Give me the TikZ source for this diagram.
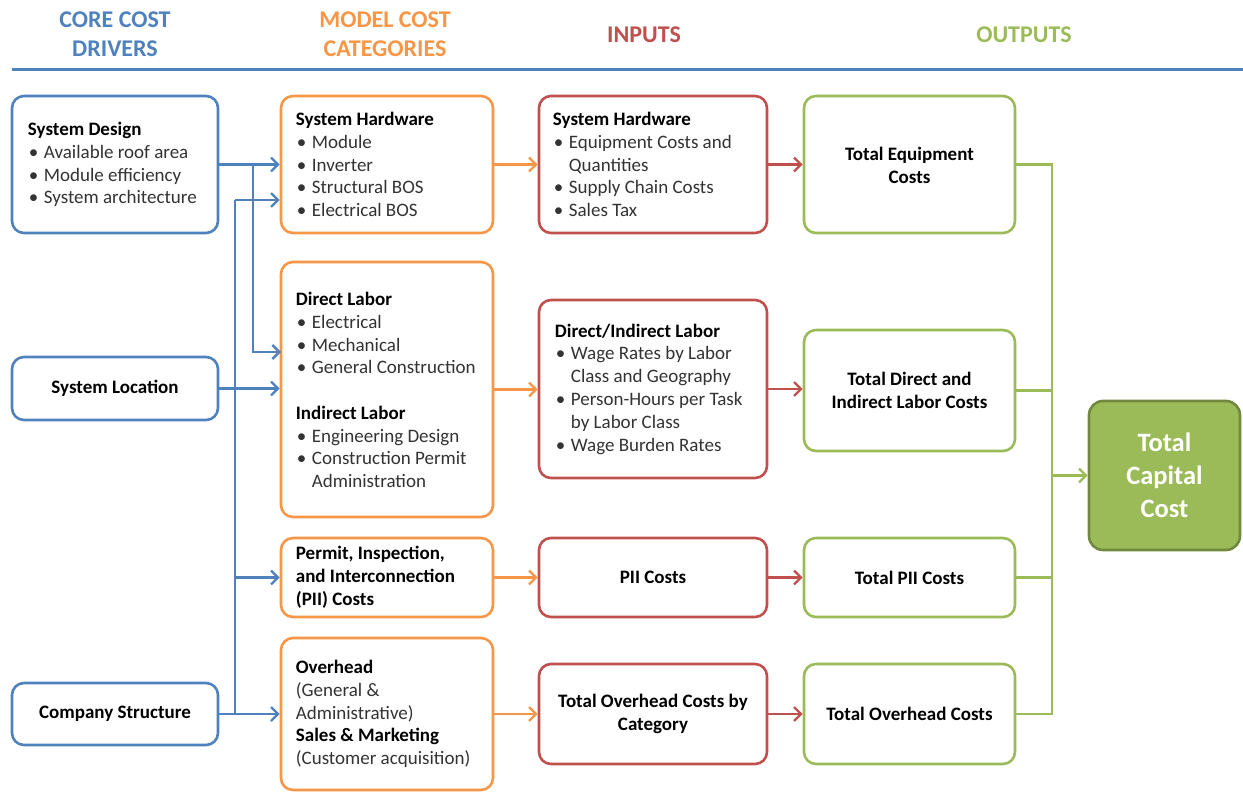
\documentclass[tikz,border=0pt]{standalone}
\usepackage{fontspec}
\setmainfont{Carlito}
\usetikzlibrary{arrows.meta,calc}
\definecolor{cblue}{HTML}{4F81BD}
\definecolor{corange}{HTML}{F79646}
\definecolor{cred}{HTML}{C0504D}
\definecolor{cgreen}{HTML}{9BBB59}
\definecolor{cdgreen}{HTML}{71893F}
\definecolor{ctext}{HTML}{333333}
\newcommand\hd[1]{\textcolor{black}{\bfseries #1}}
\newcommand\bl[1]{\makebox[16pt][l]{\hspace{1pt}\textbullet}#1}
\newcommand\ct[1]{\hspace*{16pt}#1}
\tikzset{
  box/.style={draw, rounded corners=12pt, line width=2.6pt, fill=white, minimum width=#1},
  bluebox/.style={box=206pt, draw=cblue},
  orangebox/.style={box=212pt, draw=corange},
  redbox/.style={box=228pt, draw=cred},
  greenbox/.style={box=211pt, draw=cgreen},
  txt/.style={anchor=west, align=left, inner sep=0pt, text=ctext, font=\fontsize{19}{22.8}\selectfont},
  ctxt/.style={align=center, inner sep=0pt, text=black, font=\fontsize{19}{22.8}\selectfont\bfseries},
  hdr/.style={align=center, inner sep=0pt, font=\fontsize{24}{28.5}\selectfont\bfseries},
  conn/.style={line width=2.4pt},
  arr/.style={conn, -{Straight Barb[length=7pt,width=14pt,line width=2.4pt]}},
}
\begin{document}
\begin{tikzpicture}[x=1pt,y=-1pt]
\useasboundingbox (0,0) rectangle (1243,792);
% headers
\node[hdr, text=cblue] (h1) at (115,34) {CORE COST\\DRIVERS};
\node[hdr, text=corange] (h2) at (385,34) {MODEL COST\\CATEGORIES};
\node[hdr, text=cred] (h3) at (644,35) {INPUTS};
\node[hdr, text=cgreen] (h4) at (1024,35) {OUTPUTS};
\coordinate (l1) at (12,70);
\coordinate (l2) at (1243,70);
\draw[line width=3pt, cblue] (l1) -- (l2);

% core cost drivers
\node[bluebox, minimum height=137pt] (sd) at (115,164.5) {};
\node[txt] (sdt) at ([xshift=17pt]sd.west) {\hd{System Design}\\\bl{Available roof area}\\\bl{Module efficiency}\\\bl{System architecture}};
\node[bluebox, minimum height=63pt] (sl) at (115,388.5) {};
\node[ctxt] (slt) at (sl.center) {System Location};
\node[bluebox, minimum height=62pt] (cs) at (115,714) {};
\node[ctxt] (cst) at (cs.center) {Company Structure};

% model cost categories
\node[orangebox, minimum height=137pt] (hw) at (387,164.5) {};
\node[txt] (hwt) at ([xshift=16pt]hw.west) {\hd{System Hardware}\\\bl{Module}\\\bl{Inverter}\\\bl{Structural BOS}\\\bl{Electrical BOS}};
\node[orangebox, minimum height=255pt] (dl) at (387,389.5) {};
\node[txt] (dlt) at ([xshift=16pt,yshift=-0.5pt]dl.west) {\hd{Direct Labor}\\\bl{Electrical}\\\bl{Mechanical}\\\bl{General Construction}\\[22.8pt]\hd{Indirect Labor}\\\bl{Engineering Design}\\\bl{Construction Permit}\\\ct{Administration}};
\node[orangebox, minimum height=79pt] (pii) at (387,577.5) {};
\node[txt, text=black, font=\fontsize{19}{22.8}\selectfont\bfseries] (piit) at ([xshift=16pt]pii.west) {Permit, Inspection,\\and Interconnection\\(PII) Costs};
\node[orangebox, minimum height=152pt] (oh) at (387,714) {};
\node[txt] (oht) at ([xshift=16pt]oh.west) {\hd{Overhead}\\(General \&\\Administrative)\\\hd{Sales \& Marketing}\\(Customer acquisition)};

% inputs
\node[redbox, minimum height=137pt] (ihw) at (653,164.5) {};
\node[txt] (ihwt) at ([xshift=15pt]ihw.west) {\hd{System Hardware}\\\bl{Equipment Costs and}\\\ct{Quantities}\\\bl{Supply Chain Costs}\\\bl{Sales Tax}};
\node[redbox, minimum height=178pt] (il) at (653,389) {};
\node[txt] (ilt) at ([xshift=17pt]il.west) {\hd{Direct/Indirect Labor}\\\bl{Wage Rates by Labor}\\\ct{Class and Geography}\\\bl{Person-Hours per Task}\\\ct{by Labor Class}\\\bl{Wage Burden Rates}};
\node[redbox, minimum height=79pt] (ip) at (653,577.5) {};
\node[ctxt] (ipt) at (ip.center) {PII Costs};
\node[redbox, minimum height=100pt] (io) at (653,714) {};
\node[ctxt] (iot) at (io.center) {Total Overhead Costs by\\Category};

% outputs
\node[greenbox, minimum height=137pt] (oe) at (909.5,164.5) {};
\node[ctxt] (oet) at ([yshift=-1pt]oe.center) {Total Equipment\\Costs};
\node[greenbox, minimum height=121pt] (ol) at (909.5,390.5) {};
\node[ctxt] (olt) at (ol.center) {Total Direct and\\Indirect Labor Costs};
\node[greenbox, minimum height=79pt] (op) at (909.5,577.5) {};
\node[ctxt] (opt) at (op.center) {Total PII Costs};
\node[greenbox, minimum height=100pt] (oo) at (909.5,714) {};
\node[ctxt] (oot) at (oo.center) {Total Overhead Costs};

% total capital cost
\node[draw=cdgreen, fill=cgreen, rounded corners=14pt, line width=2.6pt, minimum width=151pt, minimum height=149pt] (tc) at (1164.5,475.5) {};
\node[align=center, inner sep=0pt, text=white, font=\fontsize{26.5}{33}\selectfont\bfseries] (tct) at (tc.center) {Total\\Capital\\Cost};

% blue connectors
\draw[arr, cblue] (sd.east) -- (hw.west);
\coordinate (b1) at (253,164.5);
\coordinate (b1e) at (281,352);
\draw[arr, cblue] (b1) |- (b1e);
\coordinate (b2) at (235,200);
\draw[arr, cblue] (b2) -- (b2 -| hw.west);
\draw[conn, cblue] (b2) -- (cs.east -| b2);
\draw[arr, cblue] (sl.east) -- (sl.east -| dl.west);
\draw[arr, cblue] (pii.west -| b2) -- (pii.west);
\draw[arr, cblue] (cs.east) -- (oh.west);

% orange connectors
\draw[arr, corange] (hw.east) -- (ihw.west);
\draw[arr, corange] (dl.east) -- (dl.east -| il.west);
\draw[arr, corange] (pii.east) -- (ip.west);
\draw[arr, corange] (oh.east) -- (io.west);

% red connectors
\draw[arr, cred] (ihw.east) -- (oe.west);
\draw[arr, cred] (il.east) -- (il.east -| ol.west);
\draw[arr, cred] (ip.east) -- (op.west);
\draw[arr, cred] (io.east) -- (oo.west);

% green connectors
\coordinate (gt) at (1052,164.5);
\coordinate (gb) at (1052,714);
\draw[conn, cgreen] (oe.east) -- (gt) -- (gb) -- (oo.east);
\draw[conn, cgreen] (ol.east) -- (ol.east -| gt);
\draw[conn, cgreen] (op.east) -- (op.east -| gt);
\draw[arr, cgreen] (tc.west -| gt) -- (tc.west);
\end{tikzpicture}
\end{document}
